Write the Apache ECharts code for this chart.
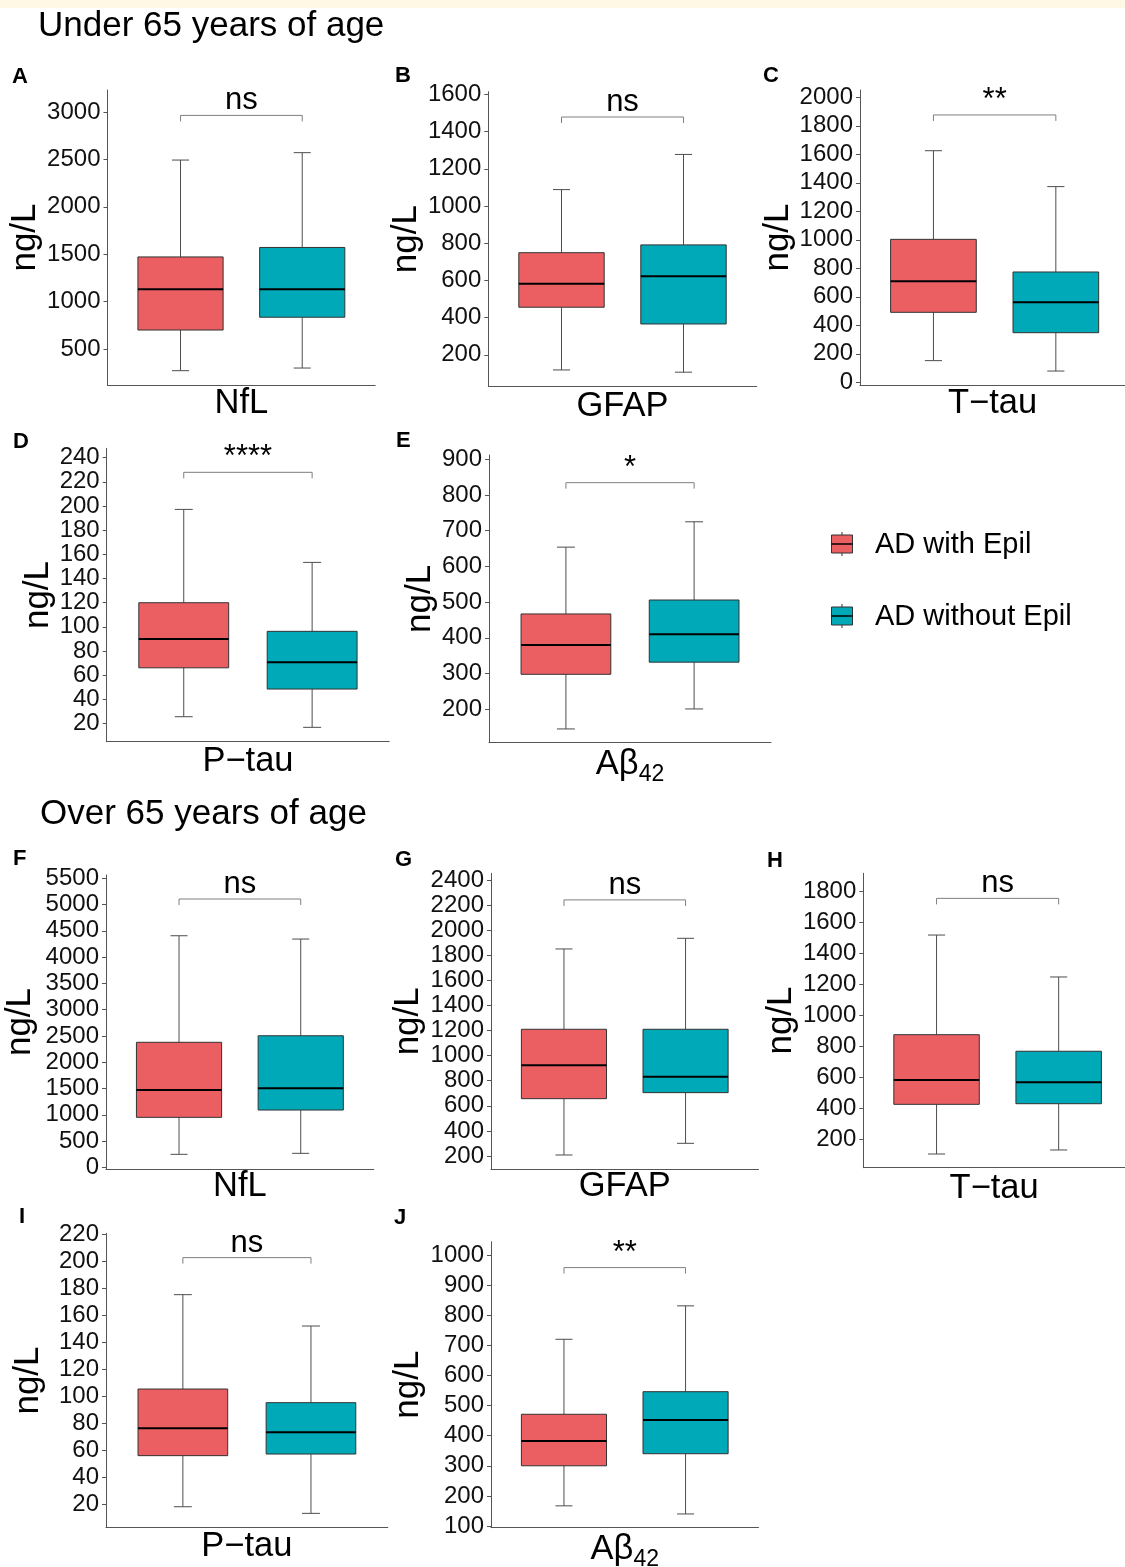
<!DOCTYPE html>
<html><head><meta charset="utf-8">
<script src="https://cdn.jsdelivr.net/npm/echarts@6/dist/echarts.min.js"></script>
<style>html,body{margin:0;padding:0;background:#fff}#c{width:1125px;height:1567px}</style>
</head><body><div id="c"></div>
<script>
// ---------------- data ----------------
const groups = ['AD with Epil', 'AD without Epil'];
const groupColors = ['#EB5F63', '#00A9B8'];
const sections = ['Under 65 years of age', 'Over 65 years of age'];
const panelLetters = ['A', 'B', 'C', 'D', 'E', 'F', 'G', 'H', 'I', 'J'];
const markers = ['NfL', 'GFAP', 'T\u2212tau', 'P\u2212tau', '{m|A\u03b2}{s|42}',
                 'NfL', 'GFAP', 'T\u2212tau', 'P\u2212tau', '{m|A\u03b2}{s|42}'];
// [lower whisker, Q1, median, Q3, upper whisker]
const withEpil = [
  [271, 700, 1131, 1471, 2493],
  [119, 456, 582, 749, 1088],
  [152, 491, 709, 1003, 1625],
  [25.5, 66, 89.8, 119.9, 197.2],
  [145, 298, 380, 467, 654],
  [247, 951, 1471, 2379, 4407],
  [208, 657, 923, 1210, 1850],
  [105, 426, 583, 876, 1520],
  [18.2, 56, 76.2, 105.3, 175.1],
  [167, 300, 382, 471, 720]
];
const withoutEpil = [
  [299, 835, 1131, 1571, 2571],
  [107, 366, 622, 791, 1277],
  [79, 348, 561, 774, 1373],
  [16.7, 48.4, 70.5, 96.2, 153.3],
  [201, 332, 410, 506, 725],
  [266, 1090, 1503, 2504, 4344],
  [301, 705, 832, 1210, 1935],
  [131, 430, 568, 769, 1249],
  [13.3, 57.2, 73.3, 95.2, 151.9],
  [140, 340, 452, 546, 831]
];
const bracketLevel = [2964, 1478, 1876, 227.9, 834.5, 5106, 2241, 1757, 202.5, 958];
const signif = ['ns', 'ns', '**', '****', '*', 'ns', 'ns', 'ns', 'ns', '**'];
const yMin = [120, 29, -19, 4.8, 106.5, -32, 94, 16.5, 2.7, 94.4];
const yMax = [3232, 1614, 2051, 247.8, 912, 5563, 2453, 1919, 220.5, 1044];
const yTicks = [
  [500, 1000, 1500, 2000, 2500, 3000],
  [200, 400, 600, 800, 1000, 1200, 1400, 1600],
  [0, 200, 400, 600, 800, 1000, 1200, 1400, 1600, 1800, 2000],
  [20, 40, 60, 80, 100, 120, 140, 160, 180, 200, 220, 240],
  [200, 300, 400, 500, 600, 700, 800, 900],
  [0, 500, 1000, 1500, 2000, 2500, 3000, 3500, 4000, 4500, 5000, 5500],
  [200, 400, 600, 800, 1000, 1200, 1400, 1600, 1800, 2000, 2200, 2400],
  [200, 400, 600, 800, 1000, 1200, 1400, 1600, 1800],
  [20, 40, 60, 80, 100, 120, 140, 160, 180, 200, 220],
  [100, 200, 300, 400, 500, 600, 700, 800, 900, 1000]
];

// ---------------- layout (pixels) ----------------
const layout = [
  {x: 107.5, top: 90,    axisY: 385,    w: 267.7, sp: 121.7, gap: 63, xg: 1, lx: 12,  ly: 85},
  {x: 488.3, top: 91.7,  axisY: 386.7,  w: 268.4, sp: 122,   gap: 60, xg: 2, lx: 395, ly: 84},
  {x: 860,   top: 90,    axisY: 385,    w: 265,   sp: 122.4, gap: 56, xg: 1, lx: 763, ly: 84},
  {x: 106.7, top: 448.3, axisY: 741.7,  w: 282.5, sp: 128.4, gap: 51, xg: 2, lx: 13,  ly: 450},
  {x: 489,   top: 455,   axisY: 742.7,  w: 282,   sp: 128.2, gap: 52, xg: 4, lx: 396, ly: 449},
  {x: 106,   top: 875,   axisY: 1169,   w: 267.7, sp: 121.7, gap: 69, xg: 0, lx: 13,  ly: 867},
  {x: 491,   top: 873.3, axisY: 1169.3, w: 267.5, sp: 121.6, gap: 66, xg: 0, lx: 395, ly: 868},
  {x: 863.3, top: 873.3, axisY: 1167.7, w: 261.7, sp: 122.1, gap: 63, xg: 3, lx: 767, ly: 869},
  {x: 106,   top: 1233.3,axisY: 1527.7, w: 281.8, sp: 128.1, gap: 61, xg: 1, lx: 19,  ly: 1225},
  {x: 491,   top: 1241.7,axisY: 1527.7, w: 267.5, sp: 121.6, gap: 66, xg: 4, lx: 394, ly: 1226}
];
const sectionPos = [{x: 38, base: 38}, {x: 40, base: 826}];
const FONT = "'Liberation Sans', Arial, Helvetica, sans-serif";
const AXIS = '#555555';
const XMIN = -0.6;
const BOX_HALF = 0.35, CAP_HALF = 0.07;

function renderBox(params, api) {
  const k = api.value(0);
  const lo = api.value(1), q1 = api.value(2), med = api.value(3), q3 = api.value(4), hi = api.value(5);
  const tl = api.coord([k - BOX_HALF, q3]);
  const br = api.coord([k + BOX_HALF, q1]);
  const m = api.coord([k, med]);
  const t = api.coord([k, hi]);
  const b = api.coord([k, lo]);
  const cl = api.coord([k - CAP_HALF, med])[0];
  const cr = api.coord([k + CAP_HALF, med])[0];
  const ws = {stroke: '#4d4d4d', lineWidth: 1};
  return {
    type: 'group',
    children: [
      {type: 'line', shape: {x1: m[0], y1: t[1], x2: m[0], y2: tl[1]}, style: ws},
      {type: 'line', shape: {x1: m[0], y1: br[1], x2: m[0], y2: b[1]}, style: ws},
      {type: 'line', shape: {x1: cl, y1: t[1], x2: cr, y2: t[1]}, style: ws},
      {type: 'line', shape: {x1: cl, y1: b[1], x2: cr, y2: b[1]}, style: ws},
      {type: 'rect', shape: {x: tl[0], y: tl[1], width: br[0] - tl[0], height: br[1] - tl[1]},
       style: {fill: groupColors[k], stroke: '#333333', lineWidth: 1}},
      {type: 'line', shape: {x1: tl[0], y1: m[1], x2: br[0], y2: m[1]}, style: {stroke: '#000', lineWidth: 2}}
    ]
  };
}
function makeBracket(i) {
  return function (params, api) {
    const l = api.coord([api.value(0), api.value(2)]);
    const r = api.coord([api.value(1), api.value(2)]);
    return {
      type: 'group',
      children: [
        {type: 'polyline', shape: {points: [[l[0], l[1] + 6], [l[0], l[1]], [r[0], r[1]], [r[0], r[1] + 6]]},
         style: {stroke: '#7f7f7f', lineWidth: 1, fill: null}},
        {type: 'text', style: {text: signif[i], x: (l[0] + r[0]) / 2, y: l[1] + 1, fontSize: 31,
         fontFamily: FONT, fill: '#000', align: 'center', verticalAlign: 'bottom'}}
      ]
    };
  };
}

const grids = [], xAxes = [], yAxes = [], series = [];
layout.forEach((L, i) => {
  grids.push({left: L.x, top: L.top, width: L.w, height: L.axisY - L.top, containLabel: false, outerBoundsMode: 'none'});
  xAxes.push({
    gridIndex: i, type: 'value', min: XMIN, max: XMIN + L.w / L.sp,
    axisLine: {show: true, onZero: false, lineStyle: {color: AXIS, width: 1}},
    axisTick: {show: false}, axisLabel: {show: false}, splitLine: {show: false},
    name: markers[i], nameLocation: 'middle', nameGap: L.xg,
    nameTextStyle: {fontSize: 34.5, color: '#000', fontFamily: FONT, verticalAlign: 'top',
      rich: {m: {fontSize: 34.5, lineHeight: 35, verticalAlign: 'top', fontFamily: FONT, color: '#000'},
             s: {fontSize: 23, lineHeight: 23, verticalAlign: 'top', padding: [16, 0, 0, 0], fontFamily: FONT, color: '#000'}}}
  });
  yAxes.push({
    gridIndex: i, type: 'value', min: yMin[i], max: yMax[i],
    axisLine: {show: true, onZero: false, lineStyle: {color: AXIS, width: 1}},
    axisTick: {show: true, length: 4, customValues: yTicks[i], lineStyle: {color: AXIS}},
    axisLabel: {customValues: yTicks[i], fontSize: 24, color: '#111', margin: 7, fontFamily: FONT,
                formatter: function (v) { return String(v); }},
    splitLine: {show: false},
    name: 'ng/L', nameLocation: 'middle', nameRotate: 90, nameGap: L.gap - 1,
    nameTextStyle: {fontSize: 35, color: '#000', fontFamily: FONT}
  });
  series.push({
    type: 'custom', name: 'box' + i, xAxisIndex: i, yAxisIndex: i, renderItem: renderBox, clip: false,
    encode: {x: 0, y: [1, 2, 3, 4, 5]},
    data: groups.map((g, k) => [k].concat(k === 0 ? withEpil[i] : withoutEpil[i]))
  });
  series.push({
    type: 'custom', name: 'sig' + i, xAxisIndex: i, yAxisIndex: i, renderItem: makeBracket(i), clip: false,
    encode: {x: [0, 1], y: 2},
    data: [[0, 1, bracketLevel[i]]]
  });
});

const graphics = [
  {type: 'rect', shape: {x: 0, y: 0, width: 1125, height: 8}, style: {fill: '#FEF8E4'}, silent: true}
];
sections.forEach((s, j) => {
  graphics.push({type: 'text', style: {text: s, x: sectionPos[j].x, y: sectionPos[j].base - 0.3465 * 35,
    fontSize: 35, fontFamily: FONT, fill: '#000', verticalAlign: 'middle'}});
});
layout.forEach((L, i) => {
  graphics.push({type: 'text', style: {text: panelLetters[i], x: L.lx, y: L.ly - 0.3465 * 22,
    fontSize: 22, fontWeight: 'bold', fontFamily: FONT, fill: '#000', verticalAlign: 'middle'}});
});
const legendY = [544, 616];
groups.forEach((g, k) => {
  const cy = legendY[k];
  graphics.push({type: 'line', shape: {x1: 842, y1: cy - 12, x2: 842, y2: cy + 12}, style: {stroke: '#333', lineWidth: 1}});
  graphics.push({type: 'rect', shape: {x: 831.5, y: cy - 9, width: 21, height: 18}, style: {fill: groupColors[k], stroke: '#333', lineWidth: 1}});
  graphics.push({type: 'line', shape: {x1: 831.5, y1: cy, x2: 852.5, y2: cy}, style: {stroke: '#000', lineWidth: 1.5}});
  graphics.push({type: 'text', style: {text: g, x: 875, y: cy + 0.5, fontSize: 29, fontFamily: FONT, fill: '#000', verticalAlign: 'middle'}});
});

const chart = echarts.init(document.getElementById('c'), null, {renderer: 'canvas'});
chart.setOption({
  animation: false,
  backgroundColor: '#ffffff',
  textStyle: {fontFamily: FONT},
  grid: grids, xAxis: xAxes, yAxis: yAxes, series: series,
  graphic: graphics
});
</script></body></html>
